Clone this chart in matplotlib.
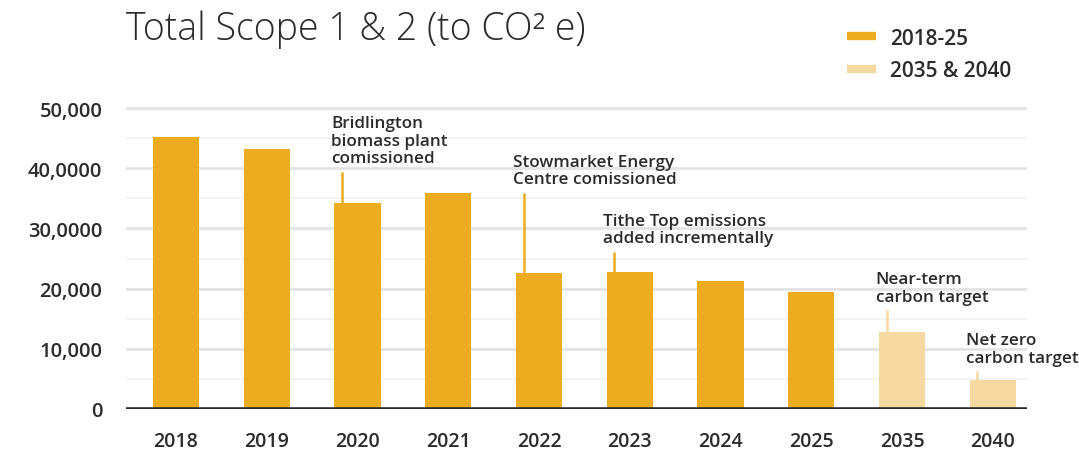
import matplotlib
matplotlib.use("Agg")
import matplotlib.pyplot as plt
from matplotlib.lines import Line2D

# emissions by year (tonnes CO2e)
years = ["2018", "2019", "2020", "2021", "2022", "2023", "2024", "2025", "2035", "2040"]
emissions = [45200, 43200, 34200, 35900, 22600, 22800, 21300, 19400, 12800, 4800]
is_target = [False] * 8 + [True, True]

yticks = [0, 10000, 20000, 30000, 40000, 50000]
ytick_labels = ["0", "10,000", "20,000", "30,0000", "40,0000", "50,000"]

# callouts: bar index, text, top of the leader line
notes = [
    (2, "Bridlington\nbiomass plant\ncomissioned", 39400),
    (4, "Stowmarket Energy\nCentre comissioned", 35900),
    (5, "Tithe Top emissions\nadded incrementally", 26100),
    (8, "Near-term\ncarbon target", 16400),
    (9, "Net zero\ncarbon target", 6300),
]

ORANGE = "#ebac20"
LIGHT = "#f6d9a0"
TEXT = "#2b2b2b"

plt.rcParams["font.family"] = ["Open Sans", "DejaVu Sans"]

fig = plt.figure(figsize=(10.79, 4.56), dpi=100)
ax = fig.add_axes([0.1168, 0.1009, 0.8352, 0.6864])

colors = [LIGHT if t else ORANGE for t in is_target]
x = list(range(len(years)))
ax.bar(x, emissions, width=0.51, color=colors, zorder=3)

ax.set_xlim(-0.55, 9.38)
ax.set_ylim(0, 52000)

# grid: strong lines every 10k, faint ones between
for v in range(5000, 50001, 5000):
    if v % 10000 == 0:
        ax.axhline(v, color="#e4e4e4", lw=2, zorder=1)
    else:
        ax.axhline(v, color="#f1f1f1", lw=1.2, zorder=1)
ax.axhline(0, color="#2a2a2a", lw=2.6, zorder=4)

for s in ax.spines.values():
    s.set_visible(False)

ax.set_yticks(yticks)
ax.set_yticklabels(ytick_labels)
ax.set_xticks(x)
ax.set_xticklabels(years)
ax.tick_params(axis="both", length=0, labelcolor=TEXT)
ax.tick_params(axis="x", pad=16, labelsize=14)
ax.tick_params(axis="y", pad=17, labelsize=14.5)
for lab in ax.get_xticklabels() + ax.get_yticklabels():
    lab.set_fontweight("semibold")

for i, txt, top in notes:
    c = LIGHT if is_target[i] else ORANGE
    lx = i - 0.17
    ax.plot([lx, lx], [emissions[i], top], color=c, lw=1.8, zorder=2,
            solid_capstyle="butt")
    ax.annotate(txt, xy=(i - 0.29, top), xytext=(0, 4), textcoords="offset points",
                ha="left", va="bottom", fontsize=12.3, color=TEXT,
                fontweight="semibold", linespacing=1.12)

fig.text(0.117, 0.935, "Total Scope 1 & 2 (to CO² e)", fontsize=27,
         fontweight="light", color=TEXT, va="center", ha="left")

handles = [Line2D([0], [0], color=ORANGE, lw=6, solid_capstyle="butt"),
           Line2D([0], [0], color=LIGHT, lw=6, solid_capstyle="butt")]
leg = fig.legend(handles, ["2018-25", "2035 & 2040"], loc="upper left",
                 bbox_to_anchor=(0.768, 0.978), frameon=False,
                 prop={"size": 15, "weight": "semibold"},
                 handlelength=1.35, handletextpad=0.7, labelspacing=0.55)
for t in leg.get_texts():
    t.set_color(TEXT)

fig.savefig("out.png", dpi=100, facecolor="white")
